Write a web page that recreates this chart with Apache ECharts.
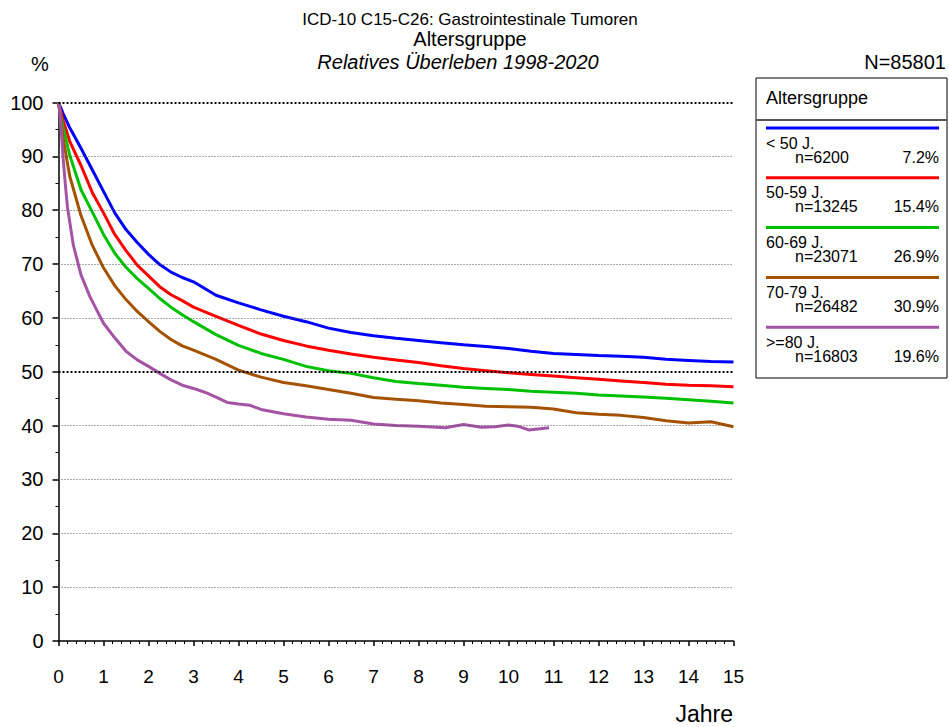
<!DOCTYPE html>
<html>
<head>
<meta charset="utf-8">
<title>Relatives Überleben nach Altersgruppe</title>
<script src="https://cdn.jsdelivr.net/npm/echarts@6/dist/echarts.min.js"></script>
<style>
  html, body { margin: 0; padding: 0; background: #fff; }
  #chart { width: 949px; height: 727px; }
</style>
</head>
<body>
<div id="chart"></div>
<script>
// --- data ---
const titleLines = ['ICD-10 C15-C26: Gastrointestinale Tumoren', 'Altersgruppe', 'Relatives Überleben 1998-2020'];
const totalN = 'N=85801';
const legendTitle = 'Altersgruppe';
const groupNames = ['< 50 J.', '50-59 J.', '60-69 J.', '70-79 J.', '>=80 J.'];
const groupCounts = ['n=6200', 'n=13245', 'n=23071', 'n=26482', 'n=16803'];
const groupShares = ['7.2%', '15.4%', '26.9%', '30.9%', '19.6%'];
const groupColors = ['#0000ff', '#ff0000', '#00c000', '#a45200', '#a553a5'];

const yTicks = [0, 10, 20, 30, 40, 50, 60, 70, 80, 90, 100];
const gridValues = [10, 20, 30, 40, 60, 70, 80, 90];
const refValues = [50, 100];

// years since diagnosis (shared by first four groups)
const tGrid = [0, 0.05, 0.1, 0.25, 0.5, 0.75, 1, 1.25, 1.5, 1.75, 2, 2.25, 2.5, 2.75, 3, 3.5, 4, 4.5, 5, 5.5,
  6, 6.5, 7, 7.5, 8, 8.5, 9, 9.5, 10, 10.5, 11, 11.5, 12, 12.5, 13, 13.5, 14, 14.5, 15];
const under50 = [100, 99, 98, 95.3, 91.5, 87.5, 83.5, 79.5, 76.4, 74, 71.8, 69.9, 68.5, 67.5, 66.7, 64.2, 62.8, 61.5, 60.3, 59.3,
  58.1, 57.3, 56.7, 56.2, 55.8, 55.4, 55.0, 54.7, 54.3, 53.8, 53.4, 53.2, 53.0, 52.9, 52.7, 52.3, 52.1, 51.9, 51.8];
const age50to59 = [100, 98.3, 96.7, 92.8, 88.3, 83.3, 79.5, 75.5, 72.5, 69.8, 67.8, 65.8, 64.3, 63.2, 62.0, 60.3, 58.6, 57.0, 55.8, 54.8,
  54.0, 53.3, 52.7, 52.2, 51.7, 51.1, 50.6, 50.2, 49.8, 49.5, 49.2, 48.9, 48.6, 48.3, 48.0, 47.7, 47.5, 47.4, 47.2];
const age60to69 = [100, 97.5, 95.5, 90.2, 83.8, 79.7, 75.5, 72.0, 69.4, 67.3, 65.5, 63.6, 62.0, 60.6, 59.3, 56.9, 54.9, 53.4, 52.3, 51.0,
  50.2, 49.7, 48.9, 48.2, 47.8, 47.5, 47.1, 46.9, 46.7, 46.4, 46.2, 46.0, 45.7, 45.5, 45.3, 45.1, 44.8, 44.5, 44.2];
const age70to79 = [100, 96.8, 93.5, 86.3, 79.0, 73.5, 69.3, 66.0, 63.4, 61.2, 59.3, 57.5, 56.0, 54.8, 54.0, 52.3, 50.3, 49.0, 48.0, 47.4,
  46.7, 46.0, 45.2, 44.9, 44.6, 44.2, 43.9, 43.6, 43.5, 43.4, 43.1, 42.4, 42.1, 41.9, 41.5, 40.9, 40.5, 40.7, 39.8];
// >=80 has its own time points (follow-up ends near 11 years)
const tOver80 = [0, 0.03, 0.06, 0.1, 0.15, 0.2, 0.33, 0.5, 0.7, 1, 1.25, 1.5, 1.75, 2, 2.25, 2.5, 2.75, 3, 3.25, 3.5,
  3.75, 4, 4.25, 4.5, 5, 5.5, 6, 6.5, 7, 7.5, 8, 8.6, 9, 9.4, 9.7, 10, 10.2, 10.45, 10.9];
const over80 = [100, 98.5, 95, 90, 85, 80.5, 73.5, 68, 63.9, 59, 56.3, 53.8, 52.2, 51.0, 49.7, 48.5, 47.5, 46.9, 46.2, 45.3,
  44.3, 44.0, 43.8, 43.0, 42.2, 41.6, 41.2, 41.0, 40.3, 40.0, 39.9, 39.6, 40.2, 39.7, 39.8, 40.1, 39.9, 39.2, 39.6];

const groupTimes = [tGrid, tGrid, tGrid, tGrid, tOver80];
const groupValues = [under50, age50to59, age60to69, age70to79, over80];

const font = 'Liberation Sans, Arial, sans-serif';
const chart = echarts.init(document.getElementById('chart'), null, { renderer: 'svg' });

const curveSeries = groupNames.map((name, i) => ({
  name: name,
  type: 'line',
  data: groupTimes[i].map((t, k) => [t, groupValues[i][k]]),
  showSymbol: false,
  symbol: 'none',
  lineStyle: { width: 3, color: groupColors[i] },
  itemStyle: { color: groupColors[i] },
  z: 3
}));

// horizontal dotted reference lines (drawn before the curves)
const gridSeries = {
  type: 'line',
  data: [],
  silent: true,
  z: 1,
  markLine: {
    silent: true,
    symbol: 'none',
    label: { show: false },
    lineStyle: { color: '#555', width: 1, type: [1, 2] },
    data: gridValues.map(v => ({ yAxis: v }))
      .concat(refValues.map(v => ({ yAxis: v, lineStyle: { color: '#000', width: 2, type: [2, 2] } })))
  }
};

// legend box drawn by hand
const legendGraphics = [
  { type: 'rect', shape: { x: 756, y: 78, width: 191, height: 300 }, style: { fill: '#fff', stroke: '#000', lineWidth: 1 } },
  { type: 'text', style: { x: 766, y: 98, text: legendTitle, font: '18px ' + font, fill: '#000', textVerticalAlign: 'middle' } },
  { type: 'line', shape: { x1: 756, y1: 120, x2: 947, y2: 120 }, style: { stroke: '#555', lineWidth: 2 } }
];
groupNames.forEach((name, i) => {
  const y0 = 128 + i * 49.8;
  legendGraphics.push(
    { type: 'line', shape: { x1: 766, y1: y0, x2: 939, y2: y0 }, style: { stroke: groupColors[i], lineWidth: 3 } },
    { type: 'text', style: { x: 766, y: y0 + 15, text: name, font: '16px ' + font, fill: '#000', textVerticalAlign: 'middle' } },
    { type: 'text', style: { x: 795, y: y0 + 29, text: groupCounts[i], font: '16px ' + font, fill: '#000', textVerticalAlign: 'middle' } },
    { type: 'text', style: { x: 939, y: y0 + 29, text: groupShares[i], font: '16px ' + font, fill: '#000', textAlign: 'right', textVerticalAlign: 'middle' } }
  );
});

chart.setOption({
  animation: false,
  backgroundColor: '#fff',
  textStyle: { fontFamily: font },
  grid: { left: 58.5, right: 215.5, top: 102.5, bottom: 86, outerBoundsMode: 'none' },
  xAxis: {
    type: 'value',
    min: 0,
    max: 15,
    interval: 1,
    offset: 7,
    axisLine: { show: true, lineStyle: { color: '#000', width: 1.5 } },
    axisTick: { show: true, length: 5, lineStyle: { color: '#000', width: 1.5 } },
    minorTick: { show: true, splitNumber: 5, length: 3, lineStyle: { color: '#000', width: 1 } },
    splitLine: { show: false },
    axisLabel: { color: '#000', fontSize: 19, margin: 19, fontFamily: font }
  },
  yAxis: {
    type: 'value',
    min: 0,
    max: 100,
    interval: 10,
    offset: 4,
    axisLine: { show: true, lineStyle: { color: '#000', width: 1.5 } },
    axisTick: { show: true, length: 6, lineStyle: { color: '#000', width: 1.5 } },
    minorTick: { show: true, splitNumber: 2, length: 3, lineStyle: { color: '#000', width: 1 } },
    splitLine: { show: false },
    axisLabel: {
      color: '#000', fontSize: 20, margin: 11, fontFamily: font,
      formatter: v => (yTicks.indexOf(v) >= 0 ? String(v) : '')
    }
  },
  graphic: [
    { type: 'text', style: { x: 470, y: 19, text: titleLines[0], font: '17px ' + font, fill: '#000', textAlign: 'center', textVerticalAlign: 'middle' } },
    { type: 'text', style: { x: 470, y: 39, text: titleLines[1], font: '20px ' + font, fill: '#000', textAlign: 'center', textVerticalAlign: 'middle' } },
    { type: 'text', style: { x: 458, y: 62, text: titleLines[2], font: 'italic 20px ' + font, fill: '#000', textAlign: 'center', textVerticalAlign: 'middle' } },
    { type: 'text', style: { x: 40, y: 64, text: '%', font: '20px ' + font, fill: '#000', textAlign: 'center', textVerticalAlign: 'middle' } },
    { type: 'text', style: { x: 946, y: 62, text: totalN, font: '20px ' + font, fill: '#000', textAlign: 'right', textVerticalAlign: 'middle' } },
    { type: 'text', style: { x: 733, y: 714, text: 'Jahre', font: '23px ' + font, fill: '#000', textAlign: 'right', textVerticalAlign: 'middle' } }
  ].concat(legendGraphics),
  series: [gridSeries].concat(curveSeries)
});
</script>
</body>
</html>
